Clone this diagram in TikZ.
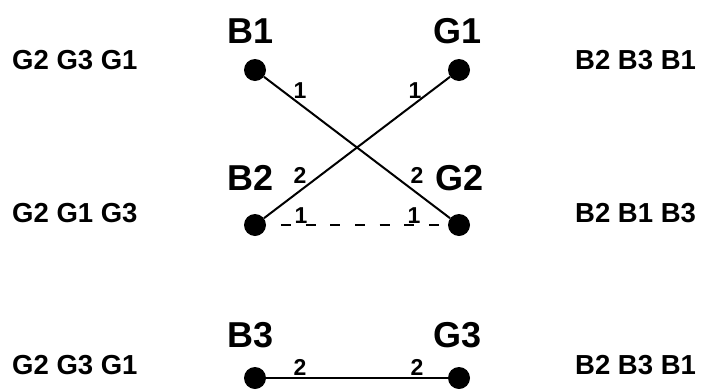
\documentclass[tikz,border=0pt]{standalone}
\usepackage{fontspec}
\setmainfont{Liberation Sans}
\begin{document}
\begin{tikzpicture}[x=1pt,y=-1pt,
  dot/.style={circle,fill=black,inner sep=0pt,minimum width=21pt,minimum height=22pt},
  big/.style={inner sep=0pt,anchor=base west,font=\fontsize{36}{40}\selectfont\bfseries},
  side/.style={inner sep=0pt,anchor=base west,font=\fontsize{27.5}{30}\selectfont\bfseries},
  num/.style={inner sep=0pt,anchor=base,font=\fontsize{23}{25}\selectfont\bfseries},
  edge/.style={line width=2pt}]
\useasboundingbox (0,0) rectangle (702,389);
% dots
\node[dot] (b1) at (255,70) {};
\node[dot] (g1) at (459,70) {};
\node[dot] (b2) at (255,225) {};
\node[dot] (g2) at (459,225) {};
\node[dot] (b3) at (255,378) {};
\node[dot] (g3) at (459,378) {};
% names
\node[big] (lb1) at (227,43) {B1};
\node[big] (lg1) at (433,43) {G1};
\node[big] (lb2) at (227,190) {B2};
\node[big] (lg2) at (435,190) {G2};
\node[big] (lb3) at (227,347) {B3};
\node[big] (lg3) at (433,347) {G3};
% preference lists
\node[side] (pl1) at (12,69) {G2 G3 G1};
\node[side] (pl2) at (12,222) {G2 G1 G3};
\node[side] (pl3) at (12,374) {G2 G3 G1};
\node[side] (pr1) at (575,69) {B2 B3 B1};
\node[side] (pr2) at (575,222) {B2 B1 B3};
\node[side] (pr3) at (575,374) {B2 B3 B1};
% edges
\draw[edge] (b1) -- (g2);
\draw[edge] (g1) -- (b2);
\draw[edge,dash pattern=on 10pt off 14.7pt,dash phase=10pt] (b2) -- (g2);
\draw[edge] (b3) -- (g3);
% numbers
\node[num] (n1) at (300,98) {1};
\node[num] (n2) at (415,98) {1};
\node[num] (n3) at (300,183) {2};
\node[num] (n4) at (417,183) {2};
\node[num] (n5) at (301,223) {1};
\node[num] (n6) at (414,223) {1};
\node[num] (n7) at (300,375) {2};
\node[num] (n8) at (417,375) {2};
\end{tikzpicture}
\end{document}
